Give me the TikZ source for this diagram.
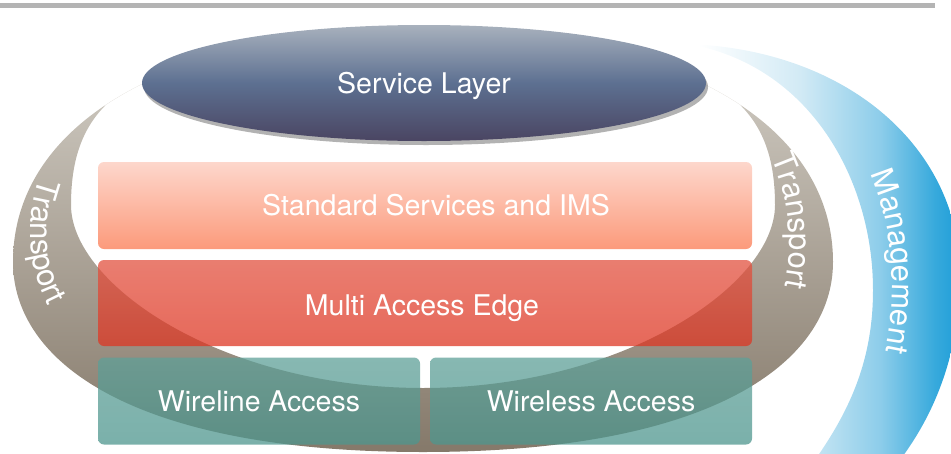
\documentclass[tikz,border=0pt]{standalone}
\usepackage{fontspec}
\setmainfont{TeX Gyre Heros}
\usetikzlibrary{shapes.geometric,decorations.text,shadows}
\definecolor{barcol}{HTML}{B4B4B4}
\definecolor{svcT}{HTML}{A8B1BD}
\definecolor{svcM}{HTML}{5D7091}
\definecolor{svcB}{HTML}{4A4562}
\definecolor{stdT}{HTML}{FDD7CC}
\definecolor{stdB}{HTML}{FC9A7B}
\definecolor{mulT}{HTML}{E25240}
\definecolor{mulB}{HTML}{DE3623}
\definecolor{tealT}{HTML}{5FA098}
\definecolor{tealB}{HTML}{4E968E}
\definecolor{ringT}{HTML}{D6D2CA}
\definecolor{ringB}{HTML}{85796A}
\definecolor{mgA}{HTML}{D2EAF5}
\definecolor{mgB}{HTML}{8DCDEA}
\definecolor{mgC}{HTML}{36A9DC}
\definecolor{mgD}{HTML}{1E9ED8}
\pgfdeclarehorizontalshading{mgmt}{100bp}{color(0bp)=(white); color(27bp)=(white); color(45.6bp)=(mgA); color(60.3bp)=(mgB); color(70.5bp)=(mgC); color(75bp)=(mgD); color(100bp)=(mgD)}
\newcommand\lblfont{\fontsize{28.5}{32}\selectfont}
\newcommand\arcfont{\fontsize{31}{34}\selectfont}
\begin{document}
\begin{tikzpicture}[x=1pt,y=-1pt,
  layerbox/.style={rectangle, rounded corners=6pt, inner sep=0pt, text=white, font=\lblfont, text opacity=1, text height=20.5pt, text depth=0pt},
  stdbox/.style={layerbox, top color=stdT, bottom color=stdB},
  mulbox/.style={layerbox, top color=mulT, bottom color=mulB, fill opacity=0.75},
  accbox/.style={layerbox, top color=tealT, bottom color=tealB, fill opacity=0.75},
  svc/.style={ellipse, inner sep=0pt, minimum width=564pt, minimum height=116pt, top color=svcT, bottom color=svcB, middle color=svcM, text=white, font=\lblfont, text height=20.5pt, text depth=0pt, drop shadow={shadow xshift=2pt, shadow yshift=-4pt, fill=black!55, opacity=0.55}},
  arctext/.style={decorate, decoration={text along path, text align=center, text={|\arcfont\color{white}|#1}}}
]
\useasboundingbox (0,0) rectangle (951,453);
\clip (0,0) rectangle (951,453);
\fill[barcol] (0,3) rectangle (935,8);
% management band
\shade[shading=mgmt] (688,44) .. controls (850,50) and (960,150) .. (960,275) .. controls (960,360) and (930,420) .. (900,460) -- (815,460) .. controls (850,410) and (873,360) .. (873,290) .. controls (873,180) and (810,65) .. (688,44) -- cycle;
% transport ring
\begin{scope}
 \clip (423,30) .. controls (173,30) and (13,122) .. (13,262) .. controls (13,362) and (133,452) .. (423,452) .. controls (713,452) and (833,362) .. (833,262) .. controls (833,122) and (673,30) .. (423,30) -- cycle;
 \shade[top color=ringT, bottom color=ringB, even odd rule]
   (423,30) .. controls (173,30) and (13,122) .. (13,262) .. controls (13,362) and (133,452) .. (423,452) .. controls (713,452) and (833,362) .. (833,262) .. controls (833,122) and (673,30) .. (423,30) -- cycle
   (423,40) .. controls (143,40) and (71,90) .. (71,205) .. controls (71,285) and (223,388) .. (423,388) .. controls (623,388) and (775,285) .. (775,205) .. controls (775,90) and (703,40) .. (423,40) -- cycle;
\end{scope}
\node[svc] (svc) at (424,83) {Service Layer};
\node[stdbox, minimum width=654pt, minimum height=87pt] (std) at (425,205.5) {\hspace*{22pt}Standard Services and IMS};
\node[mulbox, minimum width=654pt, minimum height=86pt] (mae) at (425,303) {\raisebox{-2pt}{Multi Access Edge}\hspace*{6pt}};
\node[accbox, minimum width=322pt, minimum height=87pt] (wl) at (259,401) {Wireline Access};
\node[accbox, minimum width=322pt, minimum height=87pt] (wls) at (591,401) {Wireless Access};
\path[arctext=Transport] (78,120) .. controls (14,180) and (10,290) .. (92,360);
\path[arctext=Transport] (740,110) .. controls (795,170) and (805,270) .. (765,340);
\path[arctext=Management] (845,130) .. controls (900,200) and (905,320) .. (870,400);
\end{tikzpicture}
\end{document}
